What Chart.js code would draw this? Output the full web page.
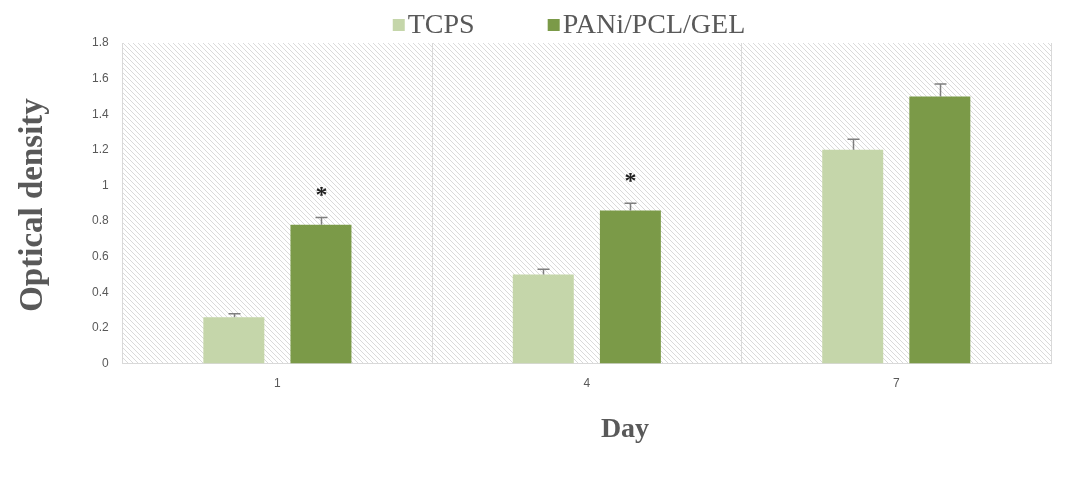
<!DOCTYPE html>
<html>
<head>
<meta charset="utf-8">
<title>Optical density by day</title>
<script src="https://cdn.jsdelivr.net/npm/chart.js@4.4.1/dist/chart.umd.min.js"></script>
<style>
  html, body { margin: 0; padding: 0; background: #ffffff; }
  #wrap { width: 1073px; height: 478px; position: relative; }
</style>
</head>
<body>
<div id="wrap"><canvas id="chart" width="1073" height="478"></canvas></div>
<script>
// Measurement days on the x axis
const days = ['1', '4', '7'];

// Mean optical density per series
const tcpsValues = [0.26, 0.50, 1.20];
const paniValues = [0.78, 0.86, 1.50];

// Standard deviation (upper error bar) per series
const tcpsErrors = [0.02, 0.03, 0.06];
const paniErrors = [0.04, 0.04, 0.07];

// Significance markers above each series' bars
const tcpsMarks = ['', '', ''];
const paniMarks = ['*', '*', ''];

// Series names
const seriesNames = ['TCPS', 'PANi/PCL/GEL'];

const COLORS = ['#c5d6aa', '#7b9a48'];
const TEXT = '#595959';
const SERIF = '"Liberation Serif", "Times New Roman", serif';
const SANS = '"Liberation Sans", Arial, sans-serif';

// Diagonal hatch fill used behind the plot area
function makeHatch() {
  const c = document.createElement('canvas');
  const s = 5;
  c.width = s; c.height = s;
  const g = c.getContext('2d');
  g.fillStyle = '#ffffff';
  g.fillRect(0, 0, s, s);
  g.fillStyle = '#dadada';
  for (let i = 0; i < s; i++) g.fillRect(i, i, 1, 1);
  return g.createPattern(c, 'repeat');
}

const hatchBackground = {
  id: 'hatchBackground',
  beforeDraw(chart) {
    const { ctx, chartArea: a } = chart;
    ctx.save();
    ctx.fillStyle = makeHatch();
    ctx.fillRect(a.left, a.top, a.right - a.left, a.bottom - a.top);
    ctx.restore();
  }
};

// Upper error bars and significance stars, placed via the y scale
const errorBars = {
  id: 'errorBars',
  afterDatasetsDraw(chart) {
    const { ctx } = chart;
    const y = chart.scales.y;
    const errs = [tcpsErrors, paniErrors];
    const marks = [tcpsMarks, paniMarks];
    ctx.save();
    chart.data.datasets.forEach((ds, di) => {
      const meta = chart.getDatasetMeta(di);
      meta.data.forEach((bar, i) => {
        const v = ds.data[i];
        const top = y.getPixelForValue(v + errs[di][i]);
        const x = Math.round(bar.x) + 0.5;
        ctx.strokeStyle = '#7f7f7f';
        ctx.lineWidth = 1.5;
        ctx.beginPath();
        ctx.moveTo(x, bar.y);
        ctx.lineTo(x, top);
        ctx.moveTo(x - 6, top);
        ctx.lineTo(x + 6, top);
        ctx.stroke();
        const m = marks[di][i];
        if (m) {
          ctx.fillStyle = '#222222';
          ctx.font = 'bold 24px ' + SERIF;
          ctx.textAlign = 'center';
          ctx.textBaseline = 'middle';
          ctx.fillText(m, x, top - 22);
        }
      });
    });
    ctx.restore();
  }
};

// Legend row and axis titles
const annotations = {
  id: 'annotations',
  afterDraw(chart) {
    const { ctx } = chart;
    ctx.save();
    // legend
    ctx.font = '28px ' + SERIF;
    ctx.textBaseline = 'middle';
    ctx.textAlign = 'left';
    const box = 12, gapText = 3, gapItem = 73;
    const widths = seriesNames.map(n => box + gapText + ctx.measureText(n).width);
    const total = widths.reduce((s, w) => s + w, 0) + gapItem * (widths.length - 1);
    let x = 569 - total / 2;
    const ly = 25;
    seriesNames.forEach((n, i) => {
      ctx.fillStyle = COLORS[i];
      ctx.fillRect(x, ly - box / 2, box, box);
      ctx.fillStyle = TEXT;
      ctx.fillText(n, x + box + gapText, ly + 1);
      x += widths[i] + gapItem;
    });
    // y title
    ctx.fillStyle = TEXT;
    ctx.font = 'bold 33px ' + SERIF;
    ctx.textAlign = 'center';
    ctx.translate(33, 205);
    ctx.rotate(-Math.PI / 2);
    ctx.fillText('Optical density', 0, 0);
    ctx.setTransform(1, 0, 0, 1, 0, 0);
    // x title
    ctx.font = 'bold 28px ' + SERIF;
    ctx.fillText('Day', 625, 430);
    ctx.restore();
  }
};

new Chart(document.getElementById('chart'), {
  type: 'bar',
  data: {
    labels: days,
    datasets: [
      { label: seriesNames[0], data: tcpsValues, backgroundColor: COLORS[0] },
      { label: seriesNames[1], data: paniValues, backgroundColor: COLORS[1] }
    ]
  },
  options: {
    responsive: false,
    animation: false,
    devicePixelRatio: 1,
    categoryPercentage: 0.563,
    barPercentage: 0.70,
    layout: { padding: { top: 43, left: 78, right: 22, bottom: 74 } },
    plugins: {
      legend: { display: false },
      tooltip: { enabled: false }
    },
    scales: {
      x: {
        grid: { display: true, offset: true, color: '#d9d9d9', drawTicks: false },
        border: { display: true, color: '#d9d9d9' },
        ticks: { color: TEXT, font: { family: SANS, size: 12 }, padding: 13 }
      },
      y: {
        min: 0,
        max: 1.8,
        grid: { display: false, drawTicks: false },
        border: { display: true, color: '#d9d9d9' },
        ticks: {
          stepSize: 0.2,
          color: TEXT,
          font: { family: SANS, size: 12 },
          padding: 14,
          callback: v => String(+Number(v).toFixed(1))
        }
      }
    }
  },
  plugins: [hatchBackground, errorBars, annotations]
});
</script>
</body>
</html>
